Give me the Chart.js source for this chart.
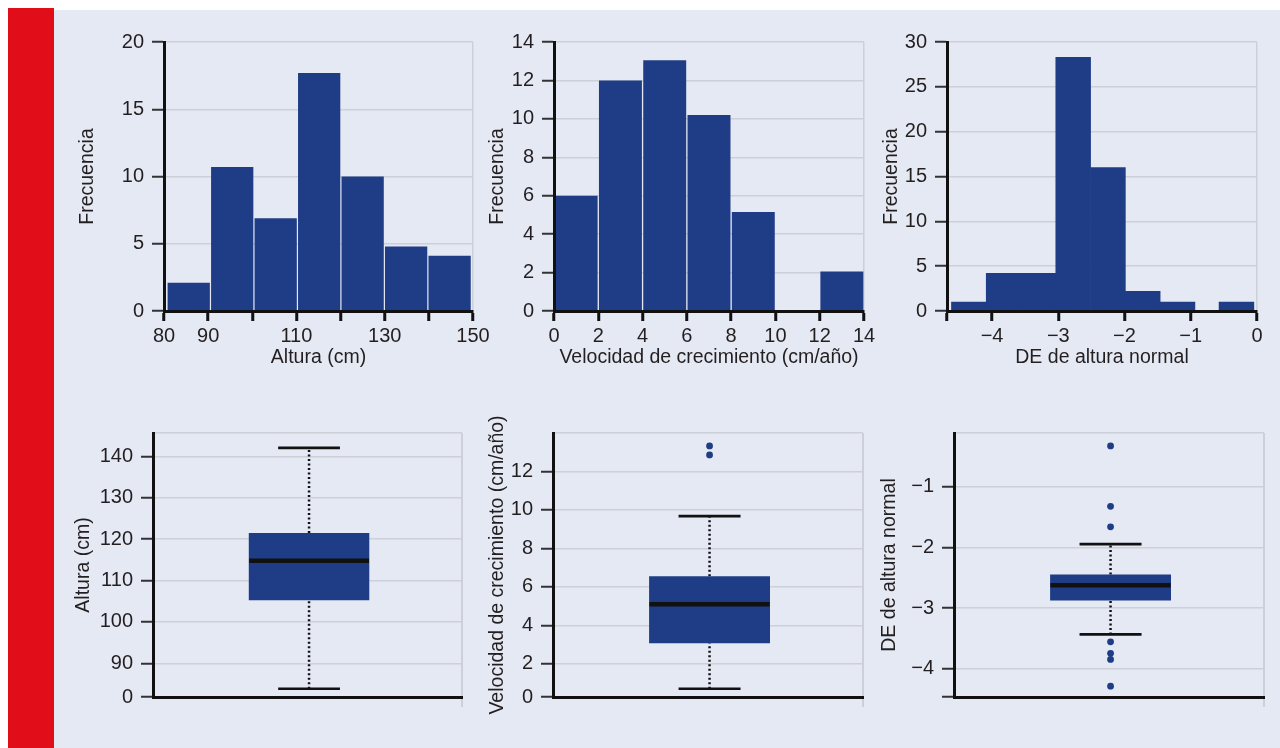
<!DOCTYPE html>
<html lang="es">
<head>
<meta charset="utf-8">
<title>Altura, velocidad de crecimiento y DE de altura normal</title>
<script src="https://cdn.jsdelivr.net/npm/chart.js@4.4.1/dist/chart.umd.min.js"></script>
<style>
  html, body { margin: 0; padding: 0; background: #fff; }
  body { width: 1280px; height: 748px; position: relative; overflow: hidden; }
  #stripe { position: absolute; left: 8px; top: 8px; width: 46px; height: 740px; background: #e10e19; }
  #panel { position: absolute; left: 54px; top: 10px; width: 1226px; height: 738px; background: #e5e9f4; }
  canvas { position: absolute; }
</style>
</head>
<body>
<div id="stripe"></div>
<div id="panel"></div>
<script>
// ---- histogram: altura (cm) ----
const altBins = [85.6, 95.45, 105.3, 115.15, 125.0, 134.85, 144.7];
const altFreq = [2.1, 10.7, 6.9, 17.7, 10.0, 4.8, 4.1];
const altTicks = [80, 90, 100, 110, 120, 130, 140, 150];
const altTickLabels = ['80', '90', '', '110', '', '130', '', '150'];
const altFreqTicks = [0, 5, 10, 15, 20];

// ---- histogram: velocidad de crecimiento (cm/año) ----
const velBins = [1, 3, 5, 7, 9, 11, 13];
const velFreq = [6, 12, 13.05, 10.2, 5.15, 0, 2.05];
const velTicks = [0, 2, 4, 6, 8, 10, 12, 14];
const velTickLabels = ['0', '2', '4', '6', '8', '10', '12', '14'];
const velFreqTicks = [0, 2, 4, 6, 8, 10, 12, 14];

// ---- histogram: DE de altura normal ----
const deBins = [-4.35, -3.825, -3.3, -2.775, -2.25, -1.725, -1.2, -0.31];
const deFreq = [1, 4.2, 4.2, 28.3, 16, 2.2, 1, 1];
const deTicks = [-4.68, -4, -3, -2, -1, 0];
const deTickLabels = ['', '−4', '−3', '−2', '−1', '0'];
const deFreqTicks = [0, 5, 10, 15, 20, 25, 30];

// ---- box plots: [whisker low, Q1, median, Q3, whisker high] ----
const altBox = [83.86, 105.27, 114.81, 121.5, 142.06];
const altOutliers = [];
const altBoxTicks = [81.87, 90, 100, 110, 120, 130, 140, 145.67];
const altBoxTickLabels = ['0', '90', '100', '110', '120', '130', '140', ''];

const velBox = [0.7, 3.07, 5.1, 6.55, 9.68];
const velOutliers = [12.86, 13.33];
const velBoxTicks = [0.27, 2, 4, 6, 8, 10, 12, 14];
const velBoxTickLabels = ['0', '2', '4', '6', '8', '10', '12', ''];

const deBox = [-3.435, -2.877, -2.624, -2.447, -1.947];
const deOutliers = [-4.29, -3.848, -3.747, -3.558, -1.661, -1.323, -0.327];
const deBoxTicks = [-4.468, -4, -3, -2, -1, -0.113];
const deBoxTickLabels = ['', '−4', '−3', '−2', '−1', ''];

// ---- styles ----
const FONT = '"Liberation Sans", Arial, sans-serif';
const TEXT = '#231f20';
const NAVY = '#1f3c86';
const GRID = '#cdd0d8';
const INK = '#111111';
const TICK_FONT = { family: FONT, size: 20 };
const TITLE_FONT = { family: FONT, size: 19.5 };
const BOX_WIDTH = 0.39;     // fraction of plot width
const BOX_MID = 0.505;
const MEDIAN_HALF = 0.194;
const CAP_HALF = 0.1;

// plot-area geometry for each panel (page pixels)
const geom = {
  altHist: { L: 164, R: 473, T: 42, B: 311, yTitle: 88, xTitle: 357.5 },
  velHist: { L: 554, R: 864, T: 42, B: 311, yTitle: 498, xTitle: 357.5 },
  deHist:  { L: 947, R: 1257, T: 42, B: 311, yTitle: 892, xTitle: 357.5 },
  altBox:  { L: 153, R: 462, T: 433, B: 703, yTitle: 84 },
  velBox:  { L: 553, R: 863, T: 433, B: 703, yTitle: 498 },
  deBox:   { L: 954, R: 1264, T: 433, B: 703, yTitle: 890 },
};

function makeCanvas(g) {
  const half = TITLE_FONT.size * 1.2 / 2;
  const left = Math.round(g.yTitle - half);
  const top = g.T - 22;
  const right = g.R + 22;
  const bottom = g.xTitle ? Math.round(g.xTitle + half) : g.B + 14;
  const canvas = document.createElement('canvas');
  canvas.width = right - left;
  canvas.height = bottom - top;
  canvas.style.left = left + 'px';
  canvas.style.top = top + 'px';
  document.body.appendChild(canvas);
  return { canvas, wy: g.L - left, hx: bottom - g.B, padTop: 22, padRight: 22 };
}

function yAxis(c, ticks, labels, title, hideTopTick) {
  const last = ticks.length - 1;
  return {
    type: 'linear', min: ticks[0], max: ticks[last],
    afterBuildTicks: s => { s.ticks = ticks.map(v => ({ value: v })); },
    afterFit: s => { s.width = c.wy; },
    ticks: {
      autoSkip: false, padding: 8, color: TEXT, font: TICK_FONT,
      callback: (v, i) => labels ? labels[i] : String(v),
    },
    grid: {
      color: GRID, lineWidth: 1.5, tickLength: 12, tickWidth: 2,
      tickColor: ctx => (hideTopTick && ctx.index === last) ? 'transparent' : '#333',
    },
    border: { color: INK, width: 3, z: 1 },
    title: { display: true, text: title, color: TEXT, font: TITLE_FONT, padding: 0 },
  };
}

function histogram(g, bins, freq, xTicks, xLabels, yTicks, xTitle, pct) {
  const c = makeCanvas(g);
  const last = xTicks.length - 1;
  return new Chart(c.canvas, {
    type: 'bar',
    data: {
      datasets: [{
        data: bins.map((x, i) => ({ x, y: freq[i] })),
        backgroundColor: NAVY, borderWidth: 0,
        barPercentage: pct, categoryPercentage: 1,
      }],
    },
    options: {
      responsive: false, animation: false,
      layout: { padding: { top: c.padTop, right: c.padRight, left: 0, bottom: 0 } },
      plugins: { legend: { display: false }, tooltip: { enabled: false } },
      scales: {
        x: {
          type: 'linear', offset: false, min: xTicks[0], max: xTicks[last],
          afterBuildTicks: s => { s.ticks = xTicks.map(v => ({ value: v })); },
          afterFit: s => { s.height = c.hx; },
          ticks: {
            autoSkip: false, maxRotation: 0, padding: 3, color: TEXT, font: TICK_FONT,
            callback: (v, i) => xLabels[i],
          },
          grid: {
            offset: false, lineWidth: 1.5, tickLength: 10, tickWidth: 3, tickColor: INK,
            color: ctx => ctx.index === last ? GRID : 'transparent',
          },
          border: { color: INK, width: 3, z: 1 },
          title: { display: true, text: xTitle, color: TEXT, font: TITLE_FONT, padding: 0 },
        },
        y: yAxis(c, yTicks, null, 'Frecuencia', false),
      },
    },
  });
}

function boxplot(g, stats, outliers, yTicks, yLabels, yTitle) {
  const c = makeCanvas(g);
  const [lo, q1, med, q3, hi] = stats;
  const mid = BOX_MID;
  const seg = (x0, y0, x1, y1, extra) => Object.assign({
    type: 'line', data: [{ x: x0, y: y0 }, { x: x1, y: y1 }],
    borderColor: INK, pointRadius: 0, fill: false,
  }, extra);
  return new Chart(c.canvas, {
    type: 'bar',
    data: {
      datasets: [
        seg(mid - MEDIAN_HALF, med, mid + MEDIAN_HALF, med, { borderWidth: 4.5, order: 0 }),
        {
          type: 'bar', data: [{ x: mid, y: [q1, q3] }], backgroundColor: NAVY,
          borderWidth: 0, barPercentage: BOX_WIDTH, categoryPercentage: 1, order: 1,
        },
        seg(mid, q3, mid, hi, { borderWidth: 2.5, borderDash: [2, 2.5], order: 2 }),
        seg(mid, lo, mid, q1, { borderWidth: 2.5, borderDash: [2, 2.5], order: 2 }),
        seg(mid - CAP_HALF, hi, mid + CAP_HALF, hi, { borderWidth: 2.7, order: 1 }),
        seg(mid - CAP_HALF, lo, mid + CAP_HALF, lo, { borderWidth: 2.7, order: 1 }),
        {
          type: 'line', data: outliers.map(y => ({ x: mid, y })), showLine: false,
          pointRadius: 3.4, pointBackgroundColor: NAVY, pointBorderWidth: 0, order: 0,
        },
      ],
    },
    options: {
      responsive: false, animation: false,
      layout: { padding: { top: c.padTop, right: c.padRight, left: 0, bottom: 0 } },
      plugins: { legend: { display: false }, tooltip: { enabled: false } },
      scales: {
        x: {
          type: 'linear', offset: false, min: 0, max: 1,
          afterBuildTicks: s => { s.ticks = [{ value: 0 }, { value: 1 }]; },
          afterFit: s => { s.height = c.hx; },
          ticks: { display: false },
          grid: {
            offset: false, lineWidth: 2, tickLength: 10, tickWidth: 2,
            color: ctx => ctx.index === 1 ? GRID : 'transparent',
            tickColor: ctx => ctx.index === 1 ? GRID : 'transparent',
          },
          border: { color: INK, width: 3, z: 1 },
        },
        y: yAxis(c, yTicks, yLabels, yTitle, true),
      },
    },
  });
}

histogram(geom.altHist, altBins, altFreq, altTicks, altTickLabels, altFreqTicks, 'Altura (cm)', 0.972);
histogram(geom.velHist, velBins, velFreq, velTicks, velTickLabels, velFreqTicks, 'Velocidad de crecimiento (cm/año)', 0.97);
histogram(geom.deHist, deBins, deFreq, deTicks, deTickLabels, deFreqTicks, 'DE de altura normal', 1);

boxplot(geom.altBox, altBox, altOutliers, altBoxTicks, altBoxTickLabels, 'Altura (cm)');
boxplot(geom.velBox, velBox, velOutliers, velBoxTicks, velBoxTickLabels, 'Velocidad de crecimiento (cm/año)');
boxplot(geom.deBox, deBox, deOutliers, deBoxTicks, deBoxTickLabels, 'DE de altura normal');
</script>
</body>
</html>
